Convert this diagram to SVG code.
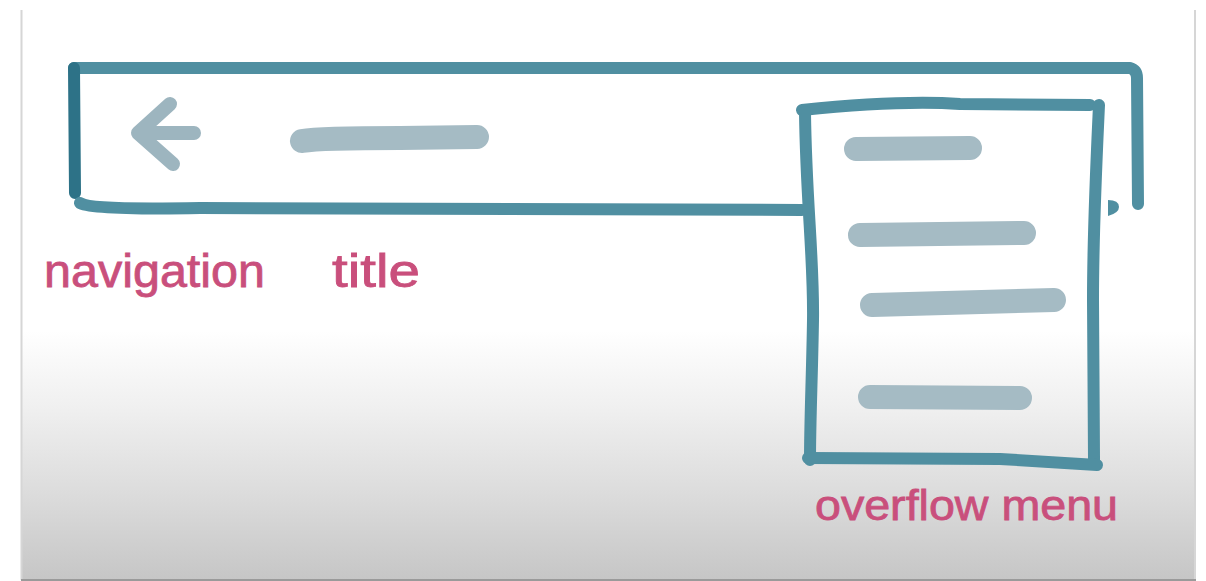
<svg xmlns="http://www.w3.org/2000/svg" width="1206" height="581" viewBox="0 0 1206 581">
  <defs>
    <linearGradient id="bg" x1="0" y1="0" x2="0" y2="1">
      <stop offset="0" stop-color="#ffffff"/>
      <stop offset="0.57" stop-color="#ffffff"/>
      <stop offset="0.7" stop-color="#f0f0f0"/>
      <stop offset="0.85" stop-color="#dcdcdc"/>
      <stop offset="1" stop-color="#c6c6c6"/>
    </linearGradient>
  </defs>
  <style>
    .frame { fill: none; stroke: #508fa1; stroke-width: 12; stroke-linecap: round; stroke-linejoin: round; }
    .dark { stroke: #2d7287; }
    .item { fill: none; stroke: #a5bbc4; stroke-width: 24; stroke-linecap: round; }
    .icon { fill: none; stroke: #9db5bf; stroke-width: 14; stroke-linecap: round; stroke-linejoin: round; }
    .label { font-family: "Liberation Sans", "DejaVu Sans", sans-serif; fill: #c94f7c; stroke: #c94f7c; stroke-width: 0.8; }
  </style>
  <rect x="0" y="0" width="1206" height="581" fill="#ffffff"/>
  <rect x="21" y="0" width="1174" height="580" fill="url(#bg)"/>
  <line x1="21.5" y1="10" x2="21.5" y2="580" stroke="#d6d6d6" stroke-width="2"/>
  <line x1="1195" y1="10" x2="1195" y2="580" stroke="#d6d6d6" stroke-width="2"/>
  <line x1="21" y1="580" x2="1196" y2="580" stroke="#9a9a9a" stroke-width="2"/>

  <g id="app-bar">
    <path class="frame" d="M74,68 L1130,68 Q1137,70 1137,78 L1138,204"/>
    <path class="frame dark" d="M74,68 L75,193"/>
    <path class="frame" d="M80,203 Q90,210 200,208 L802,210"/>
    <path d="M1108,200 Q1119,200 1119,207 Q1119,213 1108,216 Z" fill="#508fa1"/>
  </g>

  <g id="navigation">
    <path class="icon" d="M170,104 L138,133 L173,164"/>
    <path class="icon" d="M140,133 L194,133"/>
  </g>

  <g id="title">
    <path class="item" d="M302,141 Q320,138 400,138 L477,137" stroke-width="27"/>
  </g>

  <g id="overflow-menu">
    <path class="frame" d="M802,110 Q900,100 960,104 L1090,105"/>
    <path class="frame" d="M805,112 C806,200 814,260 813,320 C812,380 810,420 810,460"/>
    <path class="frame" d="M1099,105 C1096,170 1093,230 1093,300 C1093,380 1094,420 1094,462"/>
    <path class="frame" d="M808,458 L1000,459 L1097,465"/>
    <line class="item" x1="856" y1="149" x2="970" y2="148"/>
    <line class="item" x1="860" y1="235" x2="1024" y2="233"/>
    <line class="item" x1="872" y1="305" x2="1054" y2="300"/>
    <line class="item" x1="870" y1="397" x2="1020" y2="398"/>
  </g>

  <g id="labels">
    <text class="label" x="44" y="287" font-size="46" textLength="221" lengthAdjust="spacingAndGlyphs">navigation</text>
    <text class="label" x="332" y="287" font-size="46" textLength="88" lengthAdjust="spacingAndGlyphs">title</text>
    <text class="label" x="815" y="520" font-size="43" textLength="303" lengthAdjust="spacingAndGlyphs">overflow menu</text>
  </g>
</svg>
